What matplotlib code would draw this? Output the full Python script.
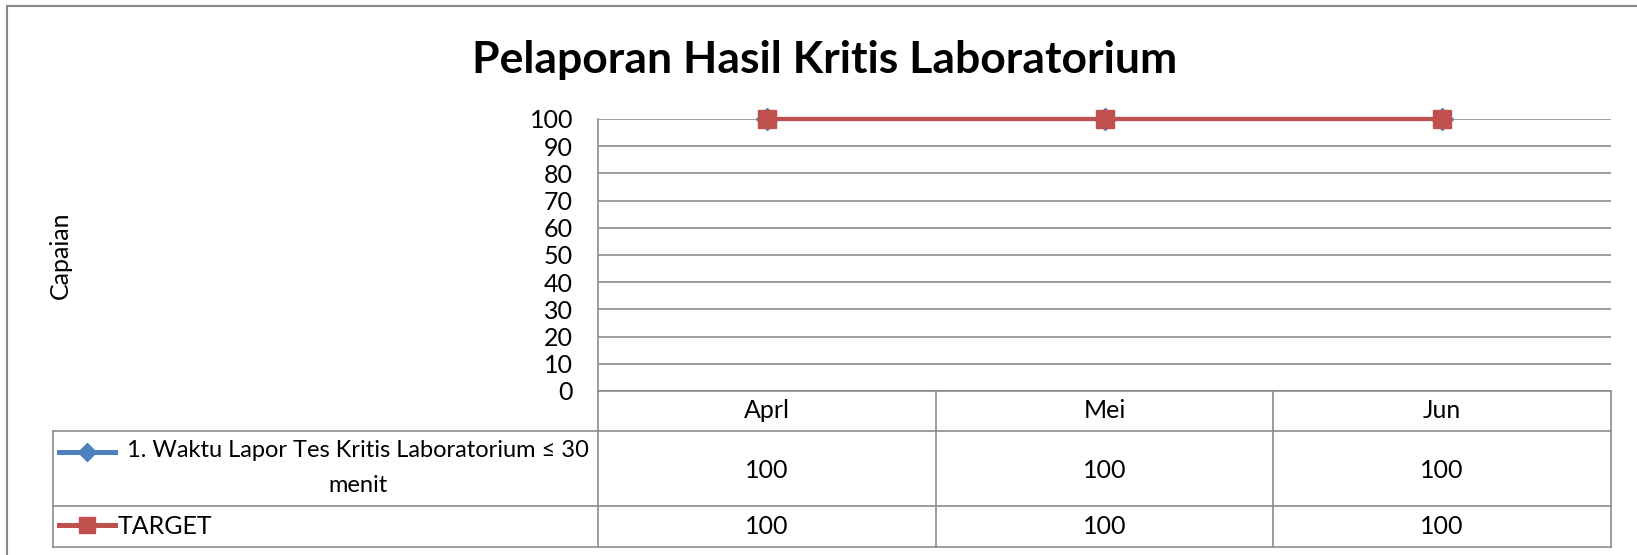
import matplotlib
matplotlib.use('Agg')
import matplotlib.pyplot as plt
from matplotlib.lines import Line2D
from matplotlib.patches import Rectangle
import numpy as np

# data
months = ['Aprl', 'Mei', 'Jun']
waktu_lapor = [100, 100, 100]
target = [100, 100, 100]
series_names = ['1. Waktu Lapor Tes Kritis Laboratorium ≤ 30\nmenit', 'TARGET']
y_ticks = [0, 10, 20, 30, 40, 50, 60, 70, 80, 90, 100]

plt.rcParams['font.family'] = ['Lato', 'DejaVu Sans']

W, H = 1637, 555
blue = '#4F81BD'
red = '#C0504D'
grid_col = '#8c8c8c'
fs = 18

fig = plt.figure(figsize=(W / 100, H / 100), dpi=100)

# layout in pixels
plot_l, plot_r = 598, 1611
plot_t, plot_b = 119, 391
tab_l, tab_b = 53, 547
row_h = [40, 75, 41]

ax = fig.add_axes([plot_l / W, 1 - plot_b / H, (plot_r - plot_l) / W, (plot_b - plot_t) / H])
x = np.arange(len(months))
ax.set_xlim(-0.5, len(months) - 0.5)
ax.set_ylim(0, 100)
ax.set_yticks(y_ticks)
ax.set_xticks([])
ax.tick_params(axis='y', length=0, pad=18, labelsize=fs)
ax.yaxis.grid(True, color=grid_col, linewidth=1.2)
ax.set_axisbelow(True)
for s in ['top', 'right']:
    ax.spines[s].set_visible(False)
for s in ['left', 'bottom']:
    ax.spines[s].set_color(grid_col)
    ax.spines[s].set_linewidth(1.2)

ax.plot(x, waktu_lapor, color=blue, lw=3.0, marker='D', ms=11, clip_on=False, zorder=3)
ax.plot(x, target, color=red, lw=3.0, marker='s', ms=13.5, clip_on=False, zorder=4)

fig.text(60 / W, 1 - 255 / H, 'Capaian', rotation=90, ha='center', va='center', fontsize=fs)
fig.text(825 / W, 1 - 72.5 / H, 'Pelaporan Hasil Kritis Laboratorium', ha='center', va='baseline',
         fontsize=32, fontweight='bold')

# data table under the chart
px_per_unit = (plot_r - plot_l) / len(months)
left_unit = -0.5 - (plot_l - tab_l) / px_per_unit
tab = fig.add_axes([tab_l / W, 1 - tab_b / H, (plot_r - tab_l) / W, (tab_b - plot_b) / H])
tab.set_xlim(left_unit, len(months) - 0.5)
tab.set_ylim(sum(row_h), 0)
tab.axis('off')

y0 = row_h[0]
y1 = row_h[0] + row_h[1]
y2 = sum(row_h)
lk = dict(color=grid_col, lw=1.2, clip_on=False)
for b in np.arange(len(months) + 1) - 0.5:
    tab.plot([b, b], [0, y2], **lk)
tab.plot([left_unit, left_unit], [y0, y2], **lk)
for yy in [y0, y1, y2]:
    tab.plot([left_unit, len(months) - 0.5], [yy, yy], **lk)

for i, m in enumerate(months):
    tab.text(i, y0 / 2, m, ha='center', va='center', fontsize=fs)
    tab.text(i, (y0 + y1) / 2 + 2, str(waktu_lapor[i]), ha='center', va='center', fontsize=fs)
    tab.text(i, (y1 + y2) / 2, str(target[i]), ha='center', va='center', fontsize=fs)

# legend keys
k0 = left_unit + (59 - tab_l) / px_per_unit
k1 = left_unit + (115 - tab_l) / px_per_unit
tab.add_line(Line2D([k0, k1], [61, 61], color=blue, lw=3.6, clip_on=False))
tab.add_line(Line2D([(k0 + k1) / 2], [61], color=blue, marker='D', ms=9, clip_on=False))
tab.add_line(Line2D([k0, k1], [134, 134], color=red, lw=3.6, clip_on=False))
tab.add_line(Line2D([(k0 + k1) / 2], [134], color=red, marker='s', ms=12, clip_on=False))

txt_x = left_unit + (358 - tab_l) / px_per_unit
tab.text(txt_x, 77, series_names[0], ha='center', va='center', multialignment='center',
         fontsize=17, linespacing=1.8)
tab.text(left_unit + (118 - tab_l) / px_per_unit, 135, series_names[1], ha='left', va='center',
         fontsize=fs)

# outer chart border
fig.patches.append(Rectangle((7 / W, -0.1), 1.2, 1 - 6 / H + 0.1, transform=fig.transFigure,
                             fill=False, edgecolor='#878787', lw=1.5))

fig.savefig('out.png', dpi=100)
